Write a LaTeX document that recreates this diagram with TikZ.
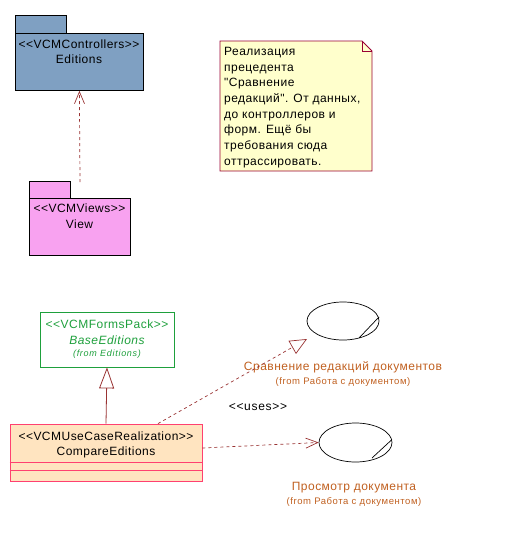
\documentclass[tikz,border=0pt]{standalone}
\usepackage{fontspec}
\setmainfont{Liberation Sans}[Ligatures=TeXOff]
\newfontfamily\wideface{Liberation Sans}[Ligatures=TeXOff, LetterSpace=4]
\newfontfamily\widerface{Liberation Sans}[Ligatures=TeXOff, LetterSpace=6]
\newfontfamily\widestface{Liberation Sans}[Ligatures=TeXOff, LetterSpace=8]
\usetikzlibrary{arrows.meta,shapes.geometric,calc}

\definecolor{pkgblue}{RGB}{127,160,194}
\definecolor{pkgpink}{RGB}{248,162,240}
\definecolor{notefill}{RGB}{255,255,204}
\definecolor{noteline}{RGB}{153,0,51}
\definecolor{relcol}{RGB}{153,51,51}
\definecolor{formgreen}{RGB}{30,160,60}
\definecolor{realfill}{RGB}{255,228,192}
\definecolor{realline}{RGB}{255,64,112}
\definecolor{uclabel}{RGB}{192,96,32}

\tikzset{
  lbl/.style={inner sep=0pt, font=\wideface\fontsize{12}{14}\selectfont},
  pkgbody/.style={draw=black, line width=0.8pt, rectangle, inner sep=0pt},
  pkgtab/.style={draw=black, line width=0.8pt},
  classbox/.style={rectangle, inner sep=0pt, line width=0.8pt},
  usecase/.style={ellipse, draw=black, line width=0.7pt, inner sep=0pt},
  uctitle/.style={lbl, text=uclabel},
  ucfrom/.style={text=uclabel, inner sep=0pt, font=\widerface\fontsize{9.5}{11}\selectfont},
  depend/.style={draw=relcol, line width=0.7pt, dash pattern=on 3pt off 3pt,
    -{Straight Barb[length=12pt,width=10pt,line width=0.7pt]}},
  realize/.style={draw=relcol, line width=0.7pt, dash pattern=on 3pt off 3pt,
    -{Triangle[open,length=17pt,width=15pt,line width=0.7pt,fill=white]}},
  generalize/.style={draw=relcol, line width=0.8pt,
    -{Triangle[open,length=21pt,width=15pt,line width=0.8pt,fill=white]}},
}

\begin{document}
\begin{tikzpicture}[x=1pt,y=-1pt]
\useasboundingbox (0,0) rectangle (519,554);

% package Editions
\node[pkgbody, fill=pkgblue, minimum width=128pt, minimum height=57pt, anchor=north west]
  (ed) at (15,33) {};
\draw[pkgtab, fill=pkgblue] (ed.north west) rectangle ++(51,-18);
\node[lbl] (edst) at (79,44) {<<VCMControllers>>};
\node[lbl] (edname) at (79,59) {Editions};

% package View
\node[pkgbody, fill=pkgpink, minimum width=101pt, minimum height=57pt, anchor=north west]
  (vw) at (29,198) {};
\draw[pkgtab, fill=pkgpink] (vw.north west) rectangle ++(41,-17);
\node[lbl] (vwst) at (79.5,208) {<<VCMViews>>};
\node[lbl] (vwname) at (79.5,224) {View};

\coordinate (vwdep) at (80,182);
\draw[depend] (vwdep) -- (ed.south);

% note
\draw[noteline, line width=0.8pt, fill=notefill]
  (220,41) -- (362,41) -- (372,51) -- (372,171) -- (220,171) -- cycle;
\draw[noteline, line width=0.8pt] (362,41) -- (362,51) -- (372,51);
\node[anchor=north west, align=left, inner sep=0pt,
      font=\wideface\fontsize{12}{15.7}\selectfont] (notetext) at (224,47)
  {Реализация\\прецедента\\"Сравнение\\редакций". От данных,\\до контроллеров и\\форм. Ещё бы\\требования сюда\\оттрассировать.};

% class BaseEditions
\node[classbox, draw=formgreen, fill=white, minimum width=134pt, minimum height=55pt]
  (be) at (107,339.5) {};
\node[lbl, text=formgreen] (best) at (107,324) {<<VCMFormsPack>>};
\node[lbl, text=formgreen, font=\wideface\fontsize{12}{14}\selectfont\itshape] (bename) at (107,340) {BaseEditions};
\node[text=formgreen, inner sep=0pt, font=\widestface\fontsize{9}{10}\selectfont\itshape] (befrom) at (107,354) {(from Editions)};

% class CompareEditions
\node[classbox, draw=realline, fill=realfill, minimum width=192pt, minimum height=57pt]
  (ce) at (106,452.5) {};
\draw[realline, line width=0.8pt] (ce.west |- 0,462) -- (ce.east |- 0,462);
\draw[realline, line width=0.8pt] (ce.west |- 0,470) -- (ce.east |- 0,470);
\node[lbl] (cest) at (106,436) {<<VCMUseCaseRealization>>};
\node[lbl] (cename) at (106,452) {CompareEditions};

\draw[generalize] (ce.north) -- (be.south);

% use cases
\node[usecase, minimum width=72pt, minimum height=38pt] (uc1) at (343,321) {};
\draw[line width=0.7pt] ($(uc1.center)+(16,17)$) -- ($(uc1.center)+(36,-4)$);
\node[uctitle] (uc1name) at (343,367) {Сравнение редакций документов};
\node[ucfrom] (uc1from) at (343,382) {(from Работа с документом)};

\node[usecase, minimum width=73pt, minimum height=39pt] (uc2) at (355.5,442.5) {};
\draw[line width=0.7pt] ($(uc2.center)+(16.5,15.5)$) -- ($(uc2.center)+(36.5,-3)$);
\node[uctitle] (uc2name) at (354,488) {Просмотр документа};
\node[ucfrom] (uc2from) at (354,502) {(from Работа с документом)};

% realization and uses links
\coordinate (ceReal) at ($(ce.north)+(52,0)$);
\coordinate (uc1tip) at ($(uc1.center)+(-36,18)$);
\draw[realize] (ceReal) -- (uc1tip);

\draw[depend] ($(ce.east)+(0,-4.5)$) -- (uc2.west);
\node[inner sep=0pt, font=\widerface\fontsize{12}{14}\selectfont] (uses) at (258,407) {<<uses>>};
\end{tikzpicture}
\end{document}
